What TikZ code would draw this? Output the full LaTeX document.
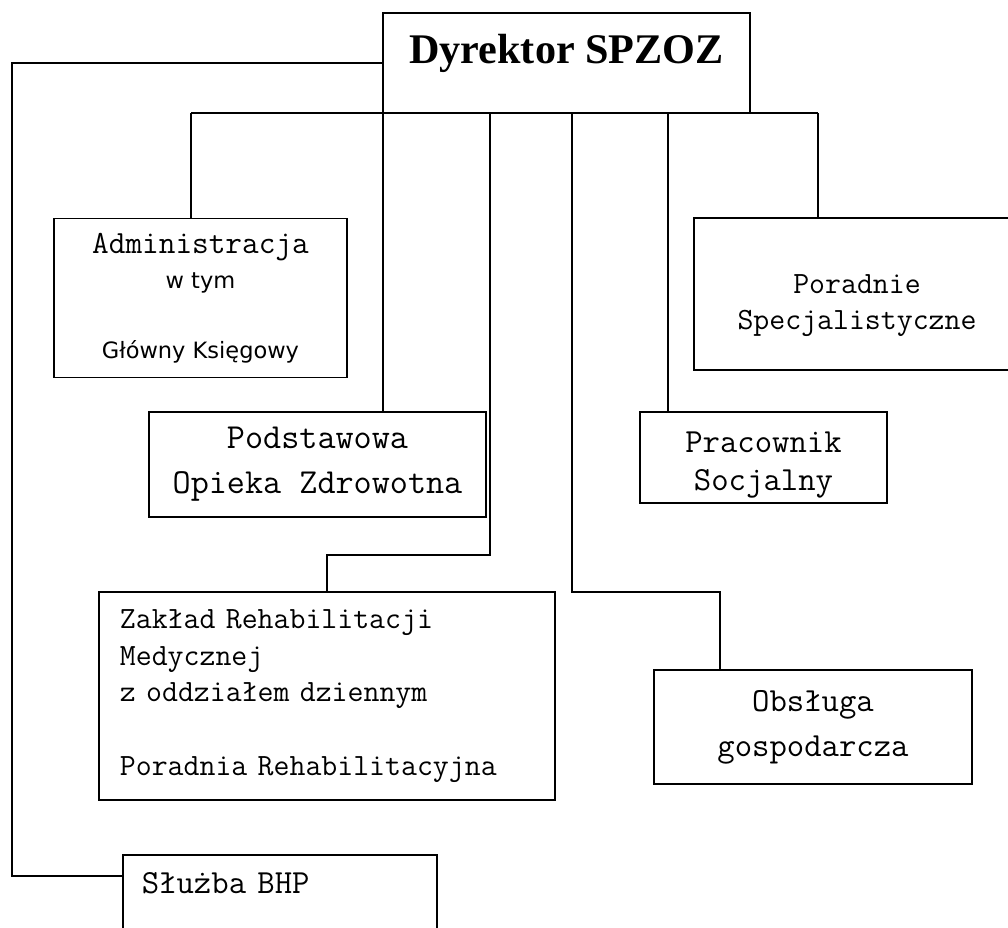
\documentclass[tikz,border=0pt]{standalone}
\usepackage{fontspec}
\setmainfont{Liberation Serif}
\newfontfamily\courier{Latin Modern Mono}
\newfontfamily\sansf{DejaVu Sans}
\usetikzlibrary{positioning}

\begin{document}
\begin{tikzpicture}[x=0.025cm,y=-0.025cm]
\tikzstyle{every node}+=[inner sep=0pt]
\tikzstyle{unit}=[draw, line width=1.2pt, align=center, font=\courier]
\tikzstyle{link}=[line width=1.2pt]
\clip (0,0) rectangle (1008,928);
% boxes
\node [unit, minimum width=9.175cm, minimum height=2.5cm, text depth=20pt,
  font=\bfseries\fontsize{30}{36}\selectfont] (dyr) at (566.5,63) {Dyrektor SPZOZ};
\node [unit, minimum width=7.325cm, minimum height=3.975cm,
  font=\sansf\fontsize{16}{25}\selectfont] (adm) at (200.5,298)
  {{\courier\fontsize{23}{25}\selectfont Administracja}\\ w tym\\[25pt] Główny Księgowy};
\node [unit, minimum width=8.425cm, minimum height=2.625cm,
  font=\courier\fontsize{25}{32}\selectfont] (pod) at (317.5,464.5) {Podstawowa\\Opieka Zdrowotna};
\node [unit, minimum width=11.4cm, minimum height=5.2cm, text width=10.35cm, align=left,
  font=\courier\fontsize{22}{26}\selectfont] (zak) at (327,696)
  {Zakład Rehabilitacji\\Medycznej\\z oddziałem dziennym\\[26pt]Poradnia Rehabilitacyjna};
\node [unit, minimum width=8.15cm, minimum height=3.8cm,
  font=\courier\fontsize{22}{26}\selectfont] (por) at (857,294)
  {\rule{0pt}{30pt}Poradnie\\Specjalistyczne};
\node [unit, minimum width=6.175cm, minimum height=2.275cm,
  font=\courier\fontsize{24}{27}\selectfont] (pra) at (763.5,457.5)
  {\rule{0pt}{25pt}Pracownik\\Socjalny};
\node [unit, minimum width=7.95cm, minimum height=2.85cm,
  font=\courier\fontsize{24}{32}\selectfont] (obs) at (813,727) {Obsługa\\gospodarcza};
\node [unit, anchor=north west, minimum width=7.85cm, text width=6.9cm, align=left,
  inner xsep=0.475cm, inner ysep=11.6pt, text height=16pt, text depth=60pt,
  font=\courier\fontsize{24}{26}\selectfont] (bhp) at (122,854) {Służba BHP};
% bus and bends
\coordinate (b1) at (191,113);
\coordinate (b2) at (383,113);
\coordinate (b3) at (490,113);
\coordinate (b4) at (572,113);
\coordinate (b5) at (668,113);
\coordinate (b6) at (818,113);
\coordinate (k1) at (490,555);
\coordinate (k2) at (572,592);
\coordinate (k3) at (720,592);
\coordinate (lft) at (12,876);
% connectors
\draw [link] (dyr.west) -| (lft) -- (lft -| bhp.west);
\draw [link] (b1) -- (b6);
\draw [link] (b1) -- (b1 |- adm.north);
\draw [link] (b2) -- (b2 |- pod.north);
\draw [link] (b3) -- (k1) -| (zak.north);
\draw [link] (b4) -- (k2) -- (k3) -- (k3 |- obs.north);
\draw [link] (b5) -- (b5 |- pra.north);
\draw [link] (b6) -- (b6 |- por.north);
\end{tikzpicture}
\end{document}
